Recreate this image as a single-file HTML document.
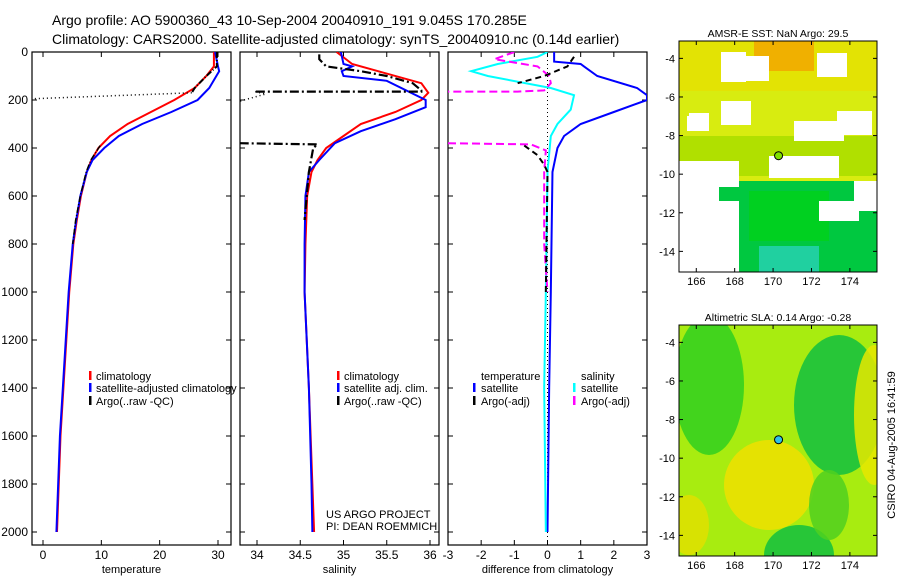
<!DOCTYPE html>
<html><head><meta charset="utf-8"><style>
body{margin:0;background:#fff}
svg text{font-family:"Liberation Sans",sans-serif;fill:#000}
</style></head><body>
<svg id="c" width="900" height="580" viewBox="0 0 900 580" xmlns="http://www.w3.org/2000/svg">
<rect width="900" height="580" fill="#fff"/>
<text x="52" y="25" font-size="14">Argo profile: AO 5900360_43 10-Sep-2004 20040910_191 9.045S 170.285E</text>
<text x="52" y="44" font-size="14">Climatology: CARS2000. Satellite-adjusted climatology: synTS_20040910.nc (0.14d earlier)</text>
<text transform="translate(895,445) rotate(-90)" text-anchor="middle" font-size="11">CSIRO 04-Aug-2005 16:41:59</text>
<g id="g"></g>
</svg>
<script>
// ---- data ----
const depthTicks=[0,200,400,600,800,1000,1200,1400,1600,1800,2000];
const tempTicks=[0,10,20,30];
const salTicks=[34,34.5,35,35.5,36];
const diffTicks=[-3,-2,-1,0,1,2,3];
const tClimD=[0,60,100,150,200,250,300,350,400,450,500,600,700,800,1000,1200,1400,1600,1800,2000];
const tClimV=[29.3,29.3,28,26,22.5,18.5,14.5,11.5,9.5,8.3,7.5,6.5,5.8,5.2,4.5,4.0,3.5,3.0,2.7,2.4];
const tSatD=[0,60,80,150,200,250,300,350,400,450,500,600,700,800,1000,1200,1400,1600,1800,2000];
const tSatV=[29.5,30,30.2,28.5,26.5,22,17,13,10.5,8.5,7.5,6.4,5.7,5.1,4.4,3.9,3.4,2.9,2.6,2.3];
const tArgoD=[0,60,100,150,170];
const tArgoV=[29.8,29.8,28,26,25.5];
const tArgoGapD=[170,195];
const tArgoGapV=[25.5,-2];
const tArgo2D=[390,450,500,600,700,800];
const tArgo2V=[9.8,8.2,7.4,6.4,5.6,5.1];
const sClimD=[0,50,80,130,170,200,250,300,350,400,450,500,600,800,1000,1400,1800,2000];
const sClimV=[34.92,35.1,35.4,35.9,35.98,35.9,35.6,35.2,35.0,34.8,34.7,34.63,34.58,34.56,34.55,34.6,34.64,34.66];
const sSatD=[0,50,60,80,100,120,200,230,280,330,380,450,500,600,800,1000,1400,1800,2000];
const sSatV=[34.97,35.0,35.1,34.98,35.0,35.5,35.95,35.95,35.6,35.2,34.9,34.72,34.6,34.56,34.55,34.55,34.6,34.63,34.64];
const sArgoD=[10,30,60,80,100,130,160,165,165];
const sArgoV=[34.72,34.72,34.8,35.2,35.5,35.8,35.9,35.9,33.98];
const sArgoGapD=[165,175,210];
const sArgoGapV=[33.98,34.1,33.75];
const sArgo2D=[380,385,400,500,700];
const sArgo2V=[33.8,34.7,34.65,34.6,34.55];
const dTSatD=[0,40,50,60,100,150,180,200,250,300,350,400,500,1000,1400,2000];
const dTSatV=[0.2,0.2,1.0,1.1,1.5,2.7,3,3,2.0,1.0,0.5,0.3,0.15,0.1,0.05,0];
const dTArgoD=[20,60,100,130];
const dTArgoV=[0.8,0.6,-0.1,-0.9];
const dTArgo2D=[390,430,470,500,1000];
const dTArgo2V=[-0.7,-0.3,-0.1,0,-0.05];
const dSSatD=[0,20,50,80,100,150,180,240,300,350,500,1000,1400,2000];
const dSSatV=[0.0,-0.3,-1.5,-2.3,-1.8,0.1,0.8,0.7,0.3,0.1,0.0,-0.05,-0.1,-0.05];
const dSArgoD=[0,30,60,100,130,160,165,165];
const dSArgoV=[-1.0,-1.6,-0.3,0.05,0.1,-0.1,-0.9,-3];
const dSArgo2D=[380,385,410,500,800,1000];
const dSArgo2V=[-3,-0.5,-0.05,-0.1,-0.1,0.0];
const lonTicks=[166,168,170,172,174];
const latTicks=[-4,-6,-8,-10,-12,-14];
const argoLon=170.285, argoLat=-9.045;

const NS="http://www.w3.org/2000/svg";
const G=document.getElementById('g');
function el(t,a,p){const e=document.createElementNS(NS,t);for(const k in a)e.setAttribute(k,a[k]);(p||G).appendChild(e);return e;}
const Y=d=>52+d*0.24;
function panel(x0,x1,v0,p0,v1,p1,ticks,label,name,showY){
  const X=v=>p0+(v-v0)/(v1-v0)*(p1-p0);
  const g=el('g',{});
  
  
  const r=el('rect',{x:x0,y:52,width:x1-x0,height:493,fill:'none',stroke:'#000','stroke-width':1.2},g);
  
  ticks.forEach(t=>{const x=X(t);
    el('line',{x1:x,x2:x,y1:545,y2:540,stroke:'#000'},g);el('line',{x1:x,x2:x,y1:52,y2:57,stroke:'#000'},g);
    const tx=el('text',{x:x,y:559,'font-size':12,'text-anchor':'middle'},g);tx.textContent=t;
    });
  depthTicks.forEach(d=>{const y=Y(d);
    el('line',{x1:x0,x2:x0+5,y1:y,y2:y,stroke:'#000'},g);el('line',{x1:x1,x2:x1-5,y1:y,y2:y,stroke:'#000'},g);
    if(showY){const tx=el('text',{x:x0-4,y:y+4,'font-size':12,'text-anchor':'end'},g);tx.textContent=d;
    }});
  const lb=el('text',{x:(x0+x1)/2,y:573,'font-size':11,'text-anchor':'middle'},g);lb.textContent=label;
  
  return X;
}
function line(X,D,V,color,w,dash,name){
  const p=el('polyline',{points:D.map((d,i)=>X(V[i])+','+Y(d)).join(' '),fill:'none',stroke:color,'stroke-width':w});
  if(dash)p.setAttribute('stroke-dasharray',dash);
  
}
function txt(x,y,s,name,size,anchor){const t=el('text',{x:x,y:y,'font-size':size||11});if(anchor)t.setAttribute('text-anchor',anchor);t.textContent=s;
  }
function bar(x,y,c){const r=el('rect',{x:x,y:y,width:2.5,height:9,fill:c});}
const clipP=el('clipPath',{id:'pclip'});
[[32,231],[240,439],[448,647]].forEach(p=>el('rect',{x:p[0],y:52,width:p[1]-p[0],height:493},clipP));

// Panel 1
const X1=panel(32,231,0,43,30,218,tempTicks,'temperature','temperature-panel',true);
line(X1,tClimD,tClimV,'#f00',2,null,'temp-climatology-line');
line(X1,tSatD,tSatV,'#00f',2,null,'temp-satellite-line');
line(X1,tArgoD,tArgoV,'#000',2,'6,2,1,2','temp-argo-line');
line(X1,tArgoGapD,tArgoGapV,'#000',1.5,'1,3','temp-argo-gap');
line(X1,tArgo2D,tArgo2V,'#000',1.5,'6,2,1,2','temp-argo-deep-line');
bar(89,371,'#f00');bar(89,383,'#00f');bar(89,396,'#000');
txt(96,380,'climatology','legend-climatology');txt(96,392,'satellite-adjusted climatology','legend-satellite');txt(96,405,'Argo(..raw -QC)','legend-argo');

// Panel 2
const X2=panel(240,439,34,257,36,430,salTicks,'salinity','salinity-panel',false);
line(X2,sClimD,sClimV,'#f00',2,null,'sal-climatology-line');
line(X2,sSatD,sSatV,'#00f',2,null,'sal-satellite-line');
line(X2,sArgoD,sArgoV,'#000',2.2,'9,3,2,3','sal-argo-line');
line(X2,sArgoGapD,sArgoGapV,'#000',1.5,'1,3','sal-argo-gap');
line(X2,sArgo2D,sArgo2V,'#000',2.2,'9,3,2,3','sal-argo-deep-line');
bar(337,371,'#f00');bar(337,383,'#00f');bar(337,396,'#000');
txt(344,380,'climatology','legend-climatology');txt(344,392,'satellite adj. clim.','legend-satellite');txt(344,405,'Argo(..raw -QC)','legend-argo');
txt(326,518,'US ARGO PROJECT','project-label');txt(326,530,'PI: DEAN ROEMMICH','pi-label');

// Panel 3
const X3=panel(448,647,-3,448,3,647,diffTicks,'difference from climatology','difference-panel',false);
el('line',{x1:X3(0),x2:X3(0),y1:52,y2:545,stroke:'#000','stroke-dasharray':'1,3'});
line(X3,dTSatD,dTSatV,'#00f',2,null,'diff-temp-satellite-line');
line(X3,dSSatD,dSSatV,'#0ff',2,null,'diff-sal-satellite-line');
line(X3,dSArgoD,dSArgoV,'#f0f',2,'8,4','diff-sal-argo-line');
line(X3,dSArgo2D,dSArgo2V,'#f0f',2,'8,4','diff-sal-argo-deep-line');
line(X3,dTArgoD,dTArgoV,'#000',2,'6,4','diff-temp-argo-line');
line(X3,dTArgo2D,dTArgo2V,'#000',2,'6,4','diff-temp-argo-deep-line');
txt(481,380,'temperature','legend-temperature-header');txt(481,392,'satellite','legend-temp-satellite');txt(481,405,'Argo(-adj)','legend-temp-argo');
bar(473,383,'#00f');bar(473,396,'#000');
txt(581,380,'salinity','legend-salinity-header');txt(581,392,'satellite','legend-sal-satellite');txt(581,405,'Argo(-adj)','legend-sal-argo');
bar(573,383,'#0ff');bar(573,396,'#f0f');

// Maps
function map(top,title,name,kind,dotColor){
  const L=679,R=877,T=top,B=top+231;
  const LX=v=>L+(v-165.1)*19.2, LY=v=>T+(-3.1-v)*19.3;
  const g=el('g',{});
  const id=name+'-clip';
  const cp=el('clipPath',{id:id},g);el('rect',{x:L,y:T,width:R-L,height:B-T},cp);
  const inner=el('g',{'clip-path':'url(#'+id+')'},g);
  if(kind==='sst'){
    el('rect',{x:L,y:T,width:R-L,height:B-T,fill:'#d8ec10'},inner);
    el('rect',{x:L,y:T,width:R-L,height:50,fill:'#e8e000',opacity:.7},inner);
    el('rect',{x:L+75,y:T,width:60,height:30,fill:'#f0b000'},inner);
    el('rect',{x:L,y:T+95,width:R-L,height:40,fill:'#b0e000'},inner);
    el('rect',{x:L,y:T+140,width:R-L,height:91,fill:'#00c840'},inner);
    el('rect',{x:L+70,y:T+150,width:80,height:50,fill:'#00d020'},inner);
    el('rect',{x:L+80,y:T+205,width:60,height:30,fill:'#20d0a0'},inner);
    el('rect',{x:L,y:T+200,width:30,height:31,fill:'#30d0b0'},inner);
    [[L+42,T+11,25,30],[L+10,T+72,20,14],[L+42,T+60,30,24],[L+138,T+12,30,24],[L+115,T+80,50,20],[L+158,T+70,35,24],
     [L,T+120,60,26],[L+90,T+115,70,22],[L,T+145,40,86],[L+30,T+160,30,50],[L+140,T+160,40,20],[L+175,T+140,23,30],
     [L+40,T+200,20,31],[L+60,T+15,30,25],[L+8,T+75,22,15]].forEach(r=>el('rect',{x:r[0],y:r[1],width:r[2],height:r[3],fill:'#fff'},inner));
  } else {
    el('rect',{x:L,y:T,width:R-L,height:B-T,fill:'#a8ec10'},inner);
    const blobs=[[L+30,T+60,35,70,'#30d020'],[L+160,T+80,45,70,'#10c040'],[L+120,T+230,35,30,'#10c040'],[L+90,T+160,45,45,'#f0e000'],[L+195,T+90,20,70,'#e8e800'],[L+10,T+200,20,30,'#e0e000'],[L+150,T+180,20,35,'#50d020']];
    blobs.forEach(b=>el('ellipse',{cx:b[0],cy:b[1],rx:b[2],ry:b[3],fill:b[4],opacity:.85},inner));
  }
  el('rect',{x:L,y:T,width:R-L,height:B-T,fill:'none',stroke:'#000'},g);
  lonTicks.forEach(v=>{const x=LX(v);el('line',{x1:x,x2:x,y1:B,y2:B-4,stroke:'#000'},g);el('line',{x1:x,x2:x,y1:T,y2:T+4,stroke:'#000'},g);
    const t=el('text',{x:x,y:B+13,'font-size':11,'text-anchor':'middle'},g);t.textContent=v;});
  latTicks.forEach(v=>{const y=LY(v);el('line',{x1:L,x2:L+4,y1:y,y2:y,stroke:'#000'},g);el('line',{x1:R,x2:R-4,y1:y,y2:y,stroke:'#000'},g);
    const t=el('text',{x:L-4,y:y+4,'font-size':11,'text-anchor':'end'},g);t.textContent=v;});
  const tt=el('text',{x:(L+R)/2,y:T-4,'font-size':10.5,'text-anchor':'middle'},g);tt.textContent=title;
  
  const c=el('circle',{cx:LX(argoLon),cy:LY(argoLat),r:4,fill:dotColor,stroke:'#000','stroke-width':1},g);
  
}
map(41,'AMSR-E SST: NaN Argo: 29.5','sst-map','sst','#80e000');
map(325,'Altimetric SLA: 0.14 Argo: -0.28','sla-map','sla','#30c0e8');
// clip profile lines to panels
document.querySelectorAll('polyline').forEach(p=>p.setAttribute('clip-path','url(#pclip)'));
</script>
</body></html>
